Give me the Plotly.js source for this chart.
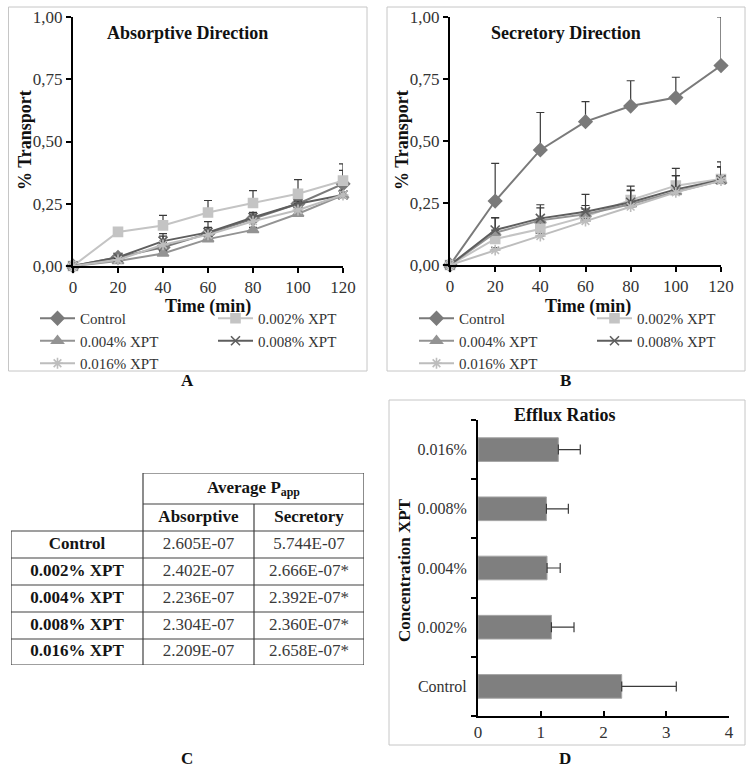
<!DOCTYPE html>
<html>
<head>
<meta charset="utf-8">
<script src="https://cdn.plot.ly/plotly-3.0.1.min.js"></script>
<style>html,body{margin:0;padding:0;background:#fff;}#chart{width:754px;height:774px;}</style>
</head>
<body>
<div id="chart"></div>
<script>
// ---------- DATA ----------
const time = [0, 20, 40, 60, 80, 100, 120];
const seriesNames = ["Control", "0.002% XPT", "0.004% XPT", "0.008% XPT", "0.016% XPT"];

// Absorptive direction (% transport)
const absControl = [0, 0.035, 0.075, 0.13, 0.19, 0.25, 0.33];
const absControlErr = [0, 0.01, 0.055, 0.048, 0.023, 0.012, 0.054];
const abs002 = [0, 0.137, 0.163, 0.215, 0.253, 0.29, 0.343];
const abs002Err = [0, 0.005, 0.04, 0.048, 0.05, 0.057, 0.067];
const abs004 = [0, 0.02, 0.05, 0.108, 0.145, 0.21, 0.284];
const abs004Err = [0, 0.005, 0.01, 0.01, 0.01, 0.01, 0.01];
const abs008 = [0, 0.035, 0.10, 0.135, 0.195, 0.25, 0.285];
const abs008Err = [0, 0.005, 0.02, 0.02, 0.02, 0.01, 0.02];
const abs016 = [0, 0.025, 0.085, 0.125, 0.18, 0.225, 0.285];
const abs016Err = [0, 0.005, 0.01, 0.01, 0.01, 0.01, 0.01];

// Secretory direction (% transport)
const secControl = [0, 0.258, 0.464, 0.578, 0.641, 0.675, 0.804];
const secControlErr = [0, 0.152, 0.151, 0.081, 0.102, 0.082, 0.196];
const sec002 = [0, 0.105, 0.145, 0.195, 0.262, 0.32, 0.347];
const sec002Err = [0, 0.02, 0.03, 0.03, 0.04, 0.04, 0.05];
const sec004 = [0, 0.13, 0.18, 0.205, 0.245, 0.295, 0.34];
const sec004Err = [0, 0.06, 0.05, 0.035, 0.055, 0.065, 0.055];
const sec008 = [0, 0.141, 0.188, 0.215, 0.253, 0.305, 0.343];
const sec008Err = [0, 0.05, 0.055, 0.07, 0.065, 0.085, 0.073];
const sec016 = [0, 0.06, 0.117, 0.177, 0.235, 0.293, 0.34];
const sec016Err = [0, 0.01, 0.01, 0.01, 0.01, 0.01, 0.01];

// Efflux ratios
const effluxCats = ["Control", "0.002%", "0.004%", "0.008%", "0.016%"];
const effluxVals = [2.29, 1.17, 1.10, 1.09, 1.28];
const effluxErr = [0.87, 0.36, 0.21, 0.35, 0.35];

// Table (Average Papp)
const tableRows = ["Control", "0.002% XPT", "0.004% XPT", "0.008% XPT", "0.016% XPT"];
const tableAbs = ["2.605E-07", "2.402E-07", "2.236E-07", "2.304E-07", "2.209E-07"];
const tableSec = ["5.744E-07", "2.666E-07*", "2.392E-07*", "2.360E-07*", "2.658E-07*"];
const tableHeader = ["Absorptive", "Secretory"];
const tableSuper = "Average P<sub>app</sub>";
const tickVals = [0, 0.25, 0.5, 0.75, 1];

// ---------- STYLE ----------
const W = 754, H = 774;
const FONT = "Liberation Serif";
const px = x => x / W;
const py = y => 1 - y / H;

const styles = [
  {color: "#7a7a7a", symbol: "diamond", size: 10},
  {color: "#c4c4c4", symbol: "square", size: 9},
  {color: "#939393", symbol: "triangle-up", size: 10},
  {color: "#5e5e5e", symbol: "x-thin-open", size: 9},
  {color: "#bdbdbd", symbol: "asterisk-open", size: 9}
];
const legendA = ["legend", "legend2", "legend", "legend2", "legend"];
const legendB = ["legend3", "legend4", "legend3", "legend4", "legend3"];

function lineTrace(y, err, i, xa, ya, leg) {
  const s = styles[i];
  return {
    type: "scatter", mode: "lines+markers", x: time, y: y,
    xaxis: xa, yaxis: ya, name: seriesNames[i], legend: leg,
    line: {color: s.color, width: 2},
    marker: {symbol: s.symbol, size: s.size, color: s.color, line: {color: s.color, width: 1.6}},
    error_y: {type: "data", symmetric: false, array: err, arrayminus: err.map(() => 0),
              color: "#3a3a3a", thickness: 1.2, width: 4},
    cliponaxis: false
  };
}

const absSets = [[absControl, absControlErr], [abs002, abs002Err], [abs004, abs004Err], [abs008, abs008Err], [abs016, abs016Err]];
const secSets = [[secControl, secControlErr], [sec002, sec002Err], [sec004, sec004Err], [sec008, sec008Err], [sec016, sec016Err]];

const traces = [];
[0, 1, 2, 3, 4].forEach(i => traces.push(lineTrace(absSets[i][0], absSets[i][1], i, "x", "y", legendA[i])));
[0, 1, 2, 3, 4].forEach(i => traces.push(lineTrace(secSets[i][0], secSets[i][1], i, "x2", "y2", legendB[i])));

traces.push({
  type: "bar", orientation: "h", x: effluxVals, y: effluxCats, xaxis: "x3", yaxis: "y3",
  showlegend: false,
  marker: {color: "#7f7f7f", line: {color: "#a6a6a6", width: 1}},
  error_x: {type: "data", symmetric: false, array: effluxErr, arrayminus: effluxErr.map(() => 0),
            color: "#3a3a3a", thickness: 1.2, width: 5}
});

// ---------- TABLE (text placed on a hidden axis pair, in column/row units) ----------
const colW = [132, 111, 110];              // column widths (layout)
const rowH = [31, 27, 27, 27, 27, 27, 26]; // super header, header, 5 body rows (layout)
const cum = a => a.reduce((acc, v) => { acc.push(acc[acc.length - 1] + v); return acc; }, [0]);
const colE = cum(colW), rowE = cum(rowH);
const colC = colW.map((w, i) => colE[i] + w / 2);
const rowC = rowH.map((h, i) => rowE[i] + h / 2);
const bodyY = tableRows.map((_, i) => rowC[i + 2]);
const tableFont = {family: FONT, size: 17, color: "#3a3a3a"};
const tableBold = {family: FONT, size: 17, color: "#141414", weight: "bold"};
function textTrace(xs, ys, texts, font) {
  return {type: "scatter", mode: "text", x: xs, y: ys, text: texts, textposition: "middle center",
          textfont: font, xaxis: "x4", yaxis: "y4", showlegend: false, hoverinfo: "skip", cliponaxis: false};
}
traces.push(textTrace(tableRows.map(() => colC[0]), bodyY, tableRows, tableBold));
traces.push(textTrace(tableAbs.map(() => colC[1]), bodyY, tableAbs, tableFont));
traces.push(textTrace(tableSec.map(() => colC[2]), bodyY, tableSec, tableFont));
traces.push(textTrace([colC[1], colC[2]], [rowC[1], rowC[1]], tableHeader, tableBold));
traces.push(textTrace([(colE[1] + colE[3]) / 2], [rowC[0]], [tableSuper], tableBold));

const tableLine = {color: "#404040", width: 1.2};
const tShapes = [];
function tl(x0, y0, x1, y1) {
  tShapes.push({type: "line", xref: "x4", yref: "y4", x0: x0, y0: y0, x1: x1, y1: y1, line: tableLine});
}
const last = rowE.length - 1;
tl(colE[1], rowE[0], colE[3], rowE[0]);
tl(colE[1], rowE[1], colE[3], rowE[1]);
for (let r = 2; r <= last; r++) tl(colE[0], rowE[r], colE[3], rowE[r]);
tl(colE[0], rowE[2], colE[0], rowE[last]);
tl(colE[1], rowE[0], colE[1], rowE[last]);
tl(colE[2], rowE[1], colE[2], rowE[last]);
tl(colE[3], rowE[0], colE[3], rowE[last]);

const tickFont = {family: FONT, size: 17, color: "#333333"};
function lineXAxis(domain, anchor) {
  return {domain: domain, anchor: anchor, range: [0, 120], dtick: 20, tick0: 0,
          showline: true, linecolor: "#000", linewidth: 2, ticks: "outside", ticklen: 5,
          tickcolor: "#000", tickwidth: 2, showgrid: false, zeroline: false, tickfont: tickFont, fixedrange: true};
}
function lineYAxis(domain, anchor) {
  return {domain: domain, anchor: anchor, range: [0, 1], tickvals: tickVals, tickformat: ".2f",
          showline: true, linecolor: "#000", linewidth: 2, ticks: "outside", ticklen: 5,
          tickcolor: "#000", tickwidth: 2, showgrid: false, zeroline: false, tickfont: tickFont, fixedrange: true};
}

const legendBase = (x) => ({x: px(x), xanchor: "left", y: py(302), yanchor: "top",
  orientation: "v", bgcolor: "rgba(0,0,0,0)", borderwidth: 0, itemwidth: 35,
  font: {family: FONT, size: 15, color: "#333333"}, tracegroupgap: 0});

function ann(text, x, y, size, opts) {
  return Object.assign({text: text, x: px(x), y: py(y), xref: "paper", yref: "paper",
    showarrow: false, xanchor: "center", yanchor: "middle",
    font: {family: FONT, size: size, color: "#111", weight: "bold"}}, opts || {});
}

const layout = {
  width: W, height: H, margin: {l: 0, r: 0, t: 0, b: 0},
  paper_bgcolor: "#ffffff", plot_bgcolor: "rgba(0,0,0,0)",
  font: {family: FONT, size: 17, color: "#333"},
  separators: ",.",
  showlegend: true,
  xaxis: lineXAxis([px(73), px(343)], "y"),
  yaxis: lineYAxis([py(266), py(17)], "x"),
  xaxis2: lineXAxis([px(450), px(721)], "y2"),
  yaxis2: lineYAxis([py(265), py(17)], "x2"),
  xaxis3: {domain: [px(478), px(729)], anchor: "y3", range: [0, 4], dtick: 1, tick0: 0,
           showline: true, linecolor: "#000", linewidth: 2, ticks: "inside", ticklen: 5,
           tickcolor: "#000", tickwidth: 2, showgrid: false, zeroline: false, tickfont: tickFont, fixedrange: true},
  yaxis3: {domain: [py(716), py(420)], anchor: "x3", type: "category",
           showline: true, linecolor: "#000", linewidth: 2, ticks: "outside", ticklen: 5,
           tickson: "boundaries", tickcolor: "#000", tickwidth: 2, showgrid: false, zeroline: false,
           ticklabelstandoff: 6,
           tickfont: {family: FONT, size: 16, color: "#333333"}, fixedrange: true},
  xaxis4: {domain: [px(11), px(364)], anchor: "y4", range: [0, colE[3]], visible: false, fixedrange: true},
  yaxis4: {domain: [py(473 + rowE[last]), py(473)], anchor: "x4", range: [rowE[last], 0], visible: false, fixedrange: true},
  bargap: 0.6,
  legend: legendBase(35),
  legend2: legendBase(213),
  legend3: legendBase(414),
  legend4: legendBase(592),
  shapes: [
    {type: "rect", xref: "paper", yref: "paper", x0: px(8.5), x1: px(367), y0: py(371), y1: py(7), line: {color: "#c6c6c6", width: 1}},
    {type: "rect", xref: "paper", yref: "paper", x0: px(387), x1: px(745), y0: py(371), y1: py(7), line: {color: "#c6c6c6", width: 1}},
    {type: "rect", xref: "paper", yref: "paper", x0: px(389), x1: px(745), y0: py(745), y1: py(400), line: {color: "#c6c6c6", width: 1}}
  ].concat(tShapes),
  annotations: [
    ann("Absorptive Direction", 187, 33, 18),
    ann("Secretory Direction", 566, 33, 18),
    ann("% Transport", 25, 140, 18, {textangle: -90}),
    ann("% Transport", 402, 140, 18, {textangle: -90}),
    ann("Time (min)", 208, 306, 18),
    ann("Time (min)", 588, 306, 18),
    ann("Efflux Ratios", 565, 415, 18),
    ann("Concentration XPT", 404, 570, 17, {textangle: -90}),
    ann("A", 187, 380, 17),
    ann("B", 565, 380, 17),
    ann("C", 187, 758, 17),
    ann("D", 565, 758, 17)
  ]
};

Plotly.newPlot("chart", traces, layout, {staticPlot: true, displayModeBar: false});
</script>
</body>
</html>
